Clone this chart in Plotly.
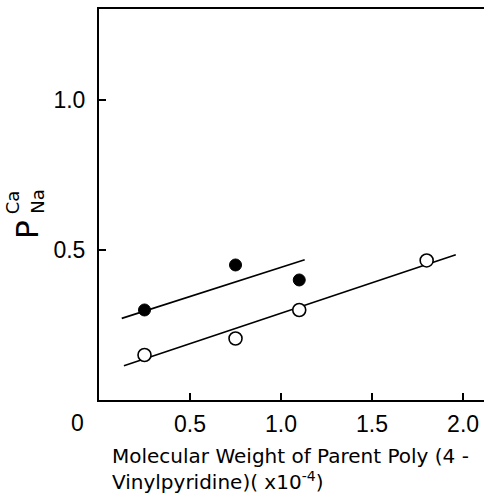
import plotly.graph_objects as go

# Data
filled_x = [0.25, 0.75, 1.10]
filled_y = [0.30, 0.45, 0.40]
open_x = [0.25, 0.75, 1.10, 1.80]
open_y = [0.15, 0.205, 0.30, 0.465]

# fitted lines (endpoints)
fit_filled_x = [0.125, 1.13]
fit_filled_y = [0.272, 0.467]
fit_open_x = [0.137, 1.96]
fit_open_y = [0.114, 0.484]

x_ticks = [0.5, 1.0, 1.5, 2.0]
x_ticklabels = ["0.5", "1.0", "1.5", "2.0"]
y_ticks = [0.5, 1.0]
y_ticklabels = ["0.5", "1.0"]

fig = go.Figure()
line_style = dict(color="black", width=1.6)
fig.add_trace(go.Scatter(x=fit_filled_x, y=fit_filled_y, mode="lines", line=line_style, showlegend=False))
fig.add_trace(go.Scatter(x=fit_open_x, y=fit_open_y, mode="lines", line=line_style, showlegend=False))
fig.add_trace(go.Scatter(x=filled_x, y=filled_y, mode="markers",
                         marker=dict(size=12, color="black", line=dict(color="black", width=1)),
                         showlegend=False))
fig.add_trace(go.Scatter(x=open_x, y=open_y, mode="markers",
                         marker=dict(size=13, color="white", line=dict(color="black", width=1.6)),
                         showlegend=False))

num_font = dict(family="Liberation Sans, Arial, sans-serif", size=23, color="black")
txt_font = dict(family="DejaVu Sans, sans-serif", size=20, color="black")

fig.update_layout(
    width=486, height=494,
    margin=dict(l=99, r=2, t=9, b=94),
    plot_bgcolor="white", paper_bgcolor="white",
    xaxis=dict(range=[0, 2.115], showgrid=False, zeroline=False,
               showline=True, linecolor="black", linewidth=2, mirror=True,
               ticks="inside", ticklen=7, tickwidth=1.5, tickcolor="black",
               tickvals=x_ticks, ticktext=x_ticklabels, tickfont=num_font,
               ticklabelstandoff=2),
    yaxis=dict(range=[0, 1.303], showgrid=False, zeroline=False,
               showline=True, linecolor="black", linewidth=2, mirror=False,
               ticks="inside", ticklen=7, tickwidth=1.5, tickcolor="black",
               tickvals=y_ticks, ticktext=y_ticklabels, tickfont=num_font,
               ticklabelstandoff=7),
)

ann = []
# origin label
ann.append(dict(x=-0.057, y=-0.059, xref="paper", yref="paper", text="0", showarrow=False,
                font=num_font, xanchor="center", yanchor="middle"))
# y axis label P^Ca_Na (rotated)
ann.append(dict(x=-0.187, y=0.435, xref="paper", yref="paper", text="P", showarrow=False,
                font=dict(family="DejaVu Sans, sans-serif", size=31, color="black"),
                textangle=-90, xanchor="center", yanchor="middle"))
ann.append(dict(x=-0.224, y=0.505, xref="paper", yref="paper", text="Ca", showarrow=False,
                font=dict(family="DejaVu Sans, sans-serif", size=18, color="black"),
                textangle=-90, xanchor="center", yanchor="middle"))
ann.append(dict(x=-0.160, y=0.508, xref="paper", yref="paper", text="Na", showarrow=False,
                font=dict(family="DejaVu Sans, sans-serif", size=18, color="black"),
                textangle=-90, xanchor="center", yanchor="middle"))
# x axis title (two lines)
ann.append(dict(x=0.0286, y=-0.143, xref="paper", yref="paper",
                text="Molecular Weight of Parent Poly (4 -", showarrow=False,
                font=txt_font, xanchor="left", yanchor="middle"))
ann.append(dict(x=0.0286, y=-0.207, xref="paper", yref="paper",
                text="Vinylpyridine)( x10<sup>-4</sup>)", showarrow=False,
                font=txt_font, xanchor="left", yanchor="middle"))
fig.update_layout(annotations=ann)

fig.write_html("out.html")
